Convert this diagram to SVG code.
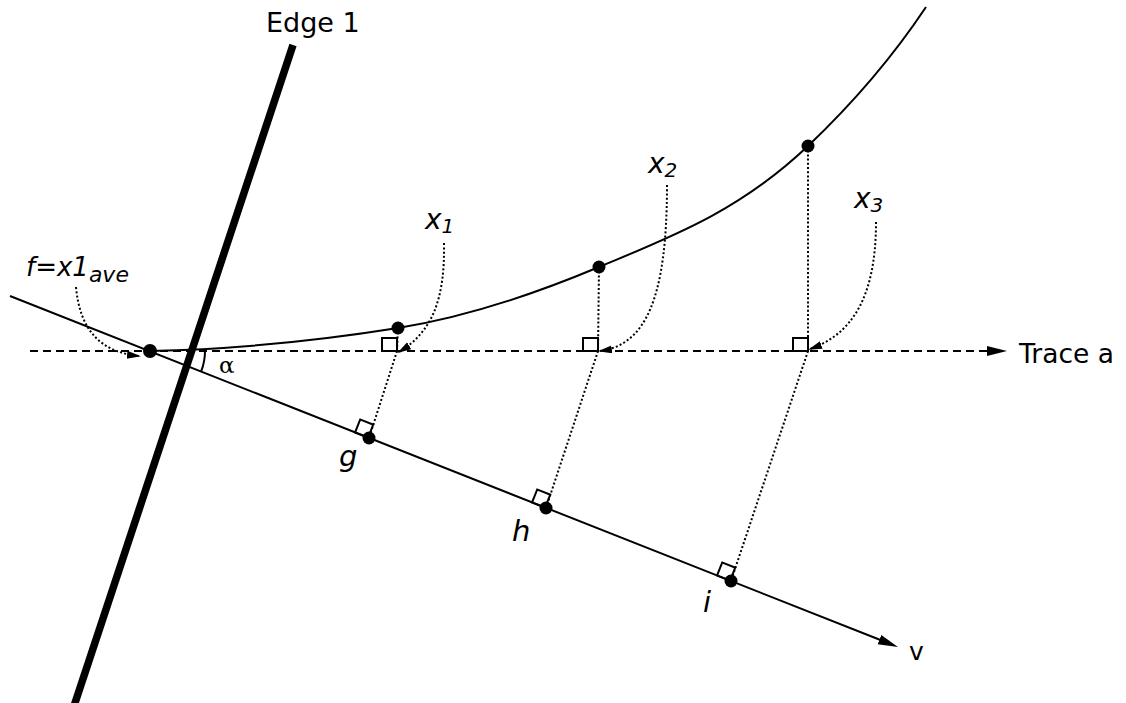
<svg xmlns="http://www.w3.org/2000/svg" width="1126" height="703" viewBox="0 0 1126 703">
<style>
.thin{fill:none;stroke:#000;stroke-width:2}
.dash{fill:none;stroke:#000;stroke-width:2;stroke-dasharray:8,5}
.dot{fill:none;stroke:#000;stroke-width:2;stroke-dasharray:2,2.2}
.pt{fill:#000}
.sq{fill:none;stroke:#000;stroke-width:2}
.lbl{font-family:"DejaVu Sans",Verdana,sans-serif;fill:#000}
.it{font-family:"DejaVu Sans",Verdana,sans-serif;font-style:italic;fill:#000}
</style>
<defs>
<marker id="arrowBig" markerUnits="userSpaceOnUse" markerWidth="22" markerHeight="12" refX="10" refY="5" orient="auto">
<path d="M0,0 L20,5 L0,10 z" fill="#000" stroke="none"/>
</marker>
<marker id="arrowSmall" markerUnits="userSpaceOnUse" markerWidth="16" markerHeight="10" refX="12" refY="4" orient="auto">
<path d="M0,0 L14,4 L0,8 z" fill="#000" stroke="none"/>
</marker>
</defs>
<rect width="1126" height="703" fill="#fff"/>

<g id="edge1">
<line x1="293" y1="45" x2="74" y2="706" stroke="#000" stroke-width="7.5"/>
<text class="lbl" x="266" y="32" font-size="27">Edge 1</text>
</g>

<g id="trace-a">
<path class="dash" d="M30,351 L997,351" marker-end="url(#arrowBig)"/>
<text class="lbl" x="1019" y="363" font-size="26.5">Trace a</text>
</g>

<g id="axis-v">
<path class="thin" d="M10,296 L888.7,643.3" marker-end="url(#arrowBig)"/>
<text class="lbl" x="909" y="660" font-size="25">v</text>
</g>

<g id="angle">
<path class="thin" d="M205,351 A55,55 0 0 1 201.2,371.2"/>
<text x="219" y="373" font-family="DejaVu Serif,serif" font-size="23">α</text>
</g>

<g id="curve">
<path class="thin" d="M150,351 C232.7,349.3 315.3,341.2 398,328 C465,317.3 532,295.1 599,267 C668.7,237.7 738.3,212.2 808,146 C847.3,108.6 886.7,66 926,7"/>
</g>

<g id="connectors">
<path class="dot" d="M398,328 L397,351"/>
<path class="dot" d="M599,267 L598,351"/>
<path class="dot" d="M808,146 L808,351"/>
<path class="dot" d="M397,351 L369,438"/>
<path class="dot" d="M598,351 L546,508"/>
<path class="dot" d="M808,351 L731,581"/>
<path class="dot" d="M76,287 C80,330 100,352 139,356" marker-end="url(#arrowSmall)"/>
<path class="dot" d="M444,243 C445,300 432,332 399,352" marker-end="url(#arrowSmall)"/>
<path class="dot" d="M667,185 C667,300 645,345 600,351" marker-end="url(#arrowSmall)"/>
<path class="dot" d="M876,222 C876,300 850,335 810,349" marker-end="url(#arrowSmall)"/>
</g>

<g id="trace-squares">
<rect class="sq" x="382" y="338" width="15" height="13"/>
<rect class="sq" x="583" y="338" width="15" height="13"/>
<rect class="sq" x="793" y="338" width="15" height="13"/>
</g>

<g id="right-angles">
<rect class="sq" x="-15" y="-14" width="14" height="14" transform="translate(369,438) rotate(21.6)"/>
<rect class="sq" x="-15" y="-14" width="14" height="14" transform="translate(546,508) rotate(21.6)"/>
<rect class="sq" x="-15" y="-14" width="14" height="14" transform="translate(731,581) rotate(21.6)"/>
</g>

<g id="point-f">
<circle class="pt" cx="150" cy="351" r="7"/>
<text class="it" x="26" y="276" font-size="26">f=x1<tspan font-size="22" dy="6">ave</tspan></text>
</g>
<g id="point-x1">
<circle class="pt" cx="398" cy="328" r="6.5"/>
<text class="it" x="425" y="229" font-size="28">x<tspan font-size="20" dy="4">1</tspan></text>
</g>
<g id="point-x2">
<circle class="pt" cx="599" cy="267" r="6.5"/>
<text class="it" x="648" y="173" font-size="28">x<tspan font-size="20" dy="4">2</tspan></text>
</g>
<g id="point-x3">
<circle class="pt" cx="808" cy="146" r="6.5"/>
<text class="it" x="854" y="208" font-size="28">x<tspan font-size="20" dy="4">3</tspan></text>
</g>
<g id="point-g">
<circle class="pt" cx="369" cy="438" r="6.5"/>
<text class="it" x="339" y="466" font-size="29">g</text>
</g>
<g id="point-h">
<circle class="pt" cx="546" cy="508" r="6.5"/>
<text class="it" x="512" y="541" font-size="29">h</text>
</g>
<g id="point-i">
<circle class="pt" cx="731" cy="581" r="6.5"/>
<text class="it" x="703" y="612" font-size="29">i</text>
</g>
</svg>
